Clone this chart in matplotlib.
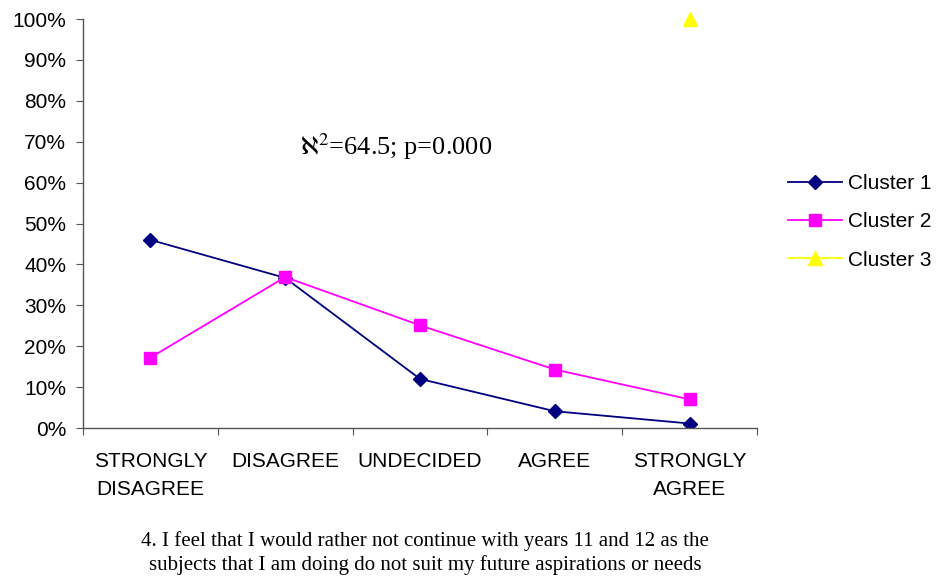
import matplotlib
matplotlib.use("Agg")
import matplotlib.pyplot as plt
import numpy as np

# ---- data ---- #
categories = ["STRONGLY\nDISAGREE", "DISAGREE", "UNDECIDED", "AGREE", "STRONGLY\nAGREE"]
cluster1 = [46.0, 36.7, 12.0, 4.1, 1.1]
cluster2 = [17.2, 36.9, 25.1, 14.3, 7.0]
cluster3 = [np.nan, np.nan, np.nan, np.nan, 100.0]
yticks = [0, 10, 20, 30, 40, 50, 60, 70, 80, 90, 100]
caption = ("4. I feel that I would rather not continue with years 11 and 12 as the\n"
           "subjects that I am doing do not suit my future aspirations or needs")

plt.rcParams["font.family"] = ["Liberation Sans", "DejaVu Sans"]
plt.rcParams["mathtext.fontset"] = "stix"
SERIF = ["Liberation Serif", "DejaVu Serif"]

fig = plt.figure(figsize=(9.41, 5.78), dpi=100)
ax = fig.add_axes([0.0882, 0.2595, 0.7163, 0.7076])

x = np.arange(len(categories)) + 0.5
ax.plot(x, cluster1, color="#000080", lw=1.3, marker="D", ms=7.5, label="Cluster 1")
ax.plot(x, cluster2, color="#FF00FF", lw=1.3, marker="s", ms=8, label="Cluster 2")
ax.plot(x, cluster3, color="#FFFF00", lw=1.3, marker="^", ms=9.5, label="Cluster 3",
        clip_on=False)

ax.set_xlim(0, len(categories))
ax.set_ylim(0, 100)
ax.set_yticks(yticks)
ax.set_yticklabels([f"{v}%" for v in yticks], fontsize=15)
ax.tick_params(axis="y", direction="out", length=5, pad=7, color="#555555")

ax.set_xticks(np.arange(len(categories) + 1))
ax.set_xticklabels([])
ax.tick_params(axis="x", which="major", direction="out", length=5, color="#555555")
ax.set_xticks(x, minor=True)
ax.set_xticklabels(categories, minor=True, fontsize=15, linespacing=1.6)
ax.tick_params(axis="x", which="minor", length=0, pad=17)

for s in ["top", "right"]:
    ax.spines[s].set_visible(False)
for s in ["left", "bottom"]:
    ax.spines[s].set_color("#555555")
    ax.spines[s].set_linewidth(1.0)

ax.text(0.322, 0.667, r"$\aleph^2$=64.5; p=0.000", transform=ax.transAxes,
        fontsize=19, family=SERIF, va="baseline")

ax.legend(loc="center left", bbox_to_anchor=(1.046, 0.504), frameon=False,
          fontsize=15, handlelength=2.6, labelspacing=0.92, handletextpad=0.3,
          borderpad=0, borderaxespad=0)

fig.text(0.4517, 1 - 575 / 578, caption, ha="center", va="bottom", fontsize=15,
         family=SERIF, linespacing=1.25)

fig.savefig("out.png", dpi=100)
